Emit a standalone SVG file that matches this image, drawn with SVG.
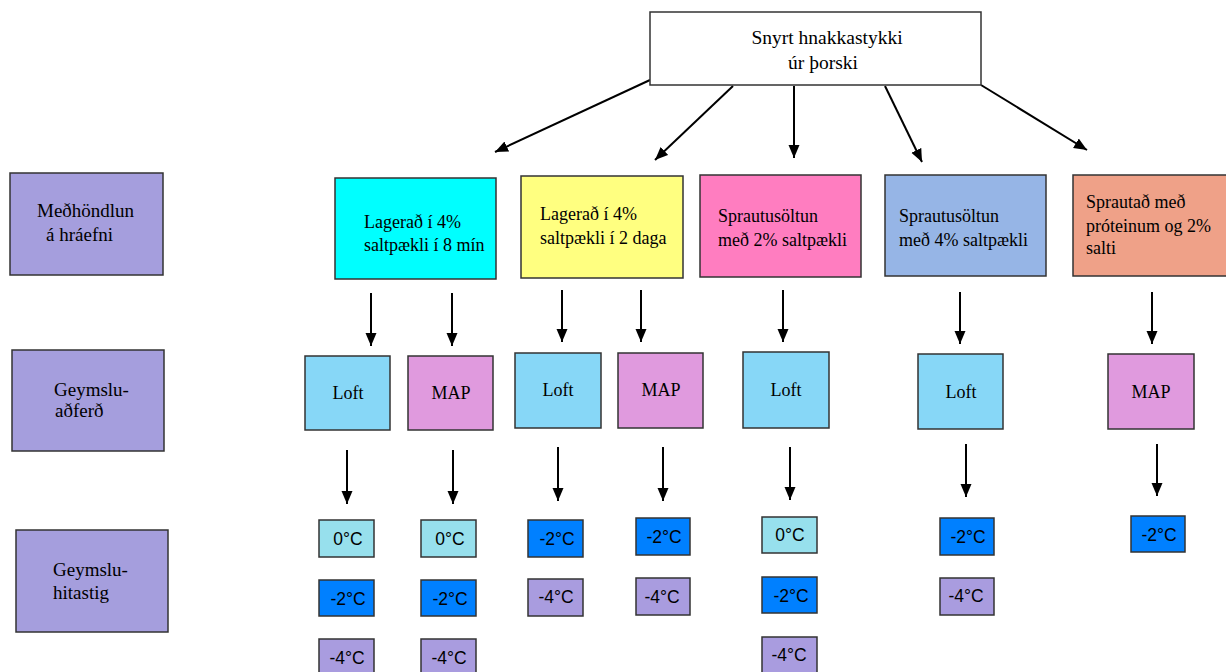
<svg xmlns="http://www.w3.org/2000/svg" width="1226" height="672" viewBox="0 0 1226 672">
<style>
.box{stroke:#333;stroke-width:1.5}
.t{font-family:"Liberation Serif","Times New Roman",serif;font-size:18px;fill:#000}
.big{font-size:19.5px}
.lb{font-size:19px}
.c{text-anchor:middle}
.s{font-family:"Liberation Sans",Arial,sans-serif;font-size:17.5px;fill:#000;text-anchor:middle}
.ar{stroke:#000;stroke-width:2;fill:none;marker-end:url(#ah)}
.lab{fill:#A59EDD}
.loft{fill:#87D7F7}
.map{fill:#E09ADE}
.t0{fill:#97E0ED}
.t2{fill:#0080FF}
.t4{fill:#A99CDF}
</style>
<defs>
<marker id="ah" markerUnits="userSpaceOnUse" markerWidth="14" markerHeight="12" refX="13" refY="5.5" orient="auto">
<path d="M0,0 L13,5.5 L0,11 z" fill="#000"/>
</marker>
</defs>
<rect width="1226" height="672" fill="#fff"/>

<g id="connectors">
<line class="ar" x1="650" y1="80" x2="495" y2="152"/>
<line class="ar" x1="733" y1="86" x2="655" y2="160"/>
<line class="ar" x1="794" y1="86" x2="794" y2="158"/>
<line class="ar" x1="885" y1="86" x2="922" y2="162"/>
<line class="ar" x1="981" y1="85" x2="1087" y2="150"/>

<line class="ar" x1="371" y1="293" x2="371" y2="346"/>
<line class="ar" x1="452" y1="293" x2="452" y2="346"/>
<line class="ar" x1="562" y1="290" x2="562" y2="342"/>
<line class="ar" x1="641" y1="290" x2="641" y2="342"/>
<line class="ar" x1="783" y1="290" x2="783" y2="342"/>
<line class="ar" x1="960" y1="292" x2="960" y2="344"/>
<line class="ar" x1="1152" y1="292" x2="1152" y2="344"/>

<line class="ar" x1="347" y1="450" x2="347" y2="504"/>
<line class="ar" x1="453" y1="450" x2="453" y2="504"/>
<line class="ar" x1="558" y1="447" x2="558" y2="501"/>
<line class="ar" x1="663" y1="447" x2="663" y2="501"/>
<line class="ar" x1="790" y1="447" x2="790" y2="500"/>
<line class="ar" x1="966" y1="444" x2="966" y2="497"/>
<line class="ar" x1="1157" y1="444" x2="1157" y2="496"/>
</g>

<g id="root">
<rect class="box" x="650" y="12" width="331" height="73" fill="#fff"/>
<text class="t big c" x="827" y="44">Snyrt hnakkastykki</text>
<text class="t big c" x="823" y="69">úr þorski</text>
</g>

<g id="label-medhondlun">
<rect class="box lab" x="10" y="173" width="153" height="102"/>
<text class="t lb" x="37" y="217">Meðhöndlun</text>
<text class="t lb" x="46" y="241">á hráefni</text>
</g>
<g id="label-geymsluadferd">
<rect class="box lab" x="12" y="350" width="152" height="101"/>
<text class="t lb" x="54" y="396">Geymslu-</text>
<text class="t lb" x="55" y="417">aðferð</text>
</g>
<g id="label-geymsluhitastig">
<rect class="box lab" x="16" y="530" width="152" height="102"/>
<text class="t lb" x="53" y="576">Geymslu-</text>
<text class="t lb" x="53" y="599">hitastig</text>
</g>

<g id="treat1">
<rect class="box" x="335" y="178" width="161" height="101" fill="#00FFFF"/>
<text class="t" x="364" y="228">Lagerað í 4%</text>
<text class="t" x="364" y="251">saltpækli í 8 mín</text>
</g>
<g id="treat2">
<rect class="box" x="521" y="176" width="162" height="102" fill="#FFFF80"/>
<text class="t" x="540" y="220">Lagerað í 4%</text>
<text class="t" x="540" y="244">saltpækli í 2 daga</text>
</g>
<g id="treat3">
<rect class="box" x="700" y="175" width="161" height="102" fill="#FF7DC0"/>
<text class="t" x="718" y="222">Sprautusöltun</text>
<text class="t" x="718" y="246">með 2% saltpækli</text>
</g>
<g id="treat4">
<rect class="box" x="885" y="175" width="161" height="101" fill="#96B5E6"/>
<text class="t" x="899" y="222">Sprautusöltun</text>
<text class="t" x="899" y="246">með 4% saltpækli</text>
</g>
<g id="treat5">
<rect class="box" x="1073" y="175" width="160" height="101" fill="#EFA188"/>
<text class="t" x="1086" y="208">Sprautað með</text>
<text class="t" x="1086" y="232">próteinum og 2%</text>
<text class="t" x="1086" y="254">salti</text>
</g>

<g id="loft1"><rect class="box loft" x="305" y="356" width="85" height="74"/><text class="t c" x="348" y="399">Loft</text></g>
<g id="map1"><rect class="box map" x="408" y="356" width="85" height="74"/><text class="t c" x="451" y="399">MAP</text></g>
<g id="loft2"><rect class="box loft" x="515" y="353" width="86" height="75"/><text class="t c" x="558" y="396">Loft</text></g>
<g id="map2"><rect class="box map" x="618" y="353" width="85" height="75"/><text class="t c" x="661" y="396">MAP</text></g>
<g id="loft3"><rect class="box loft" x="743" y="352" width="86" height="76"/><text class="t c" x="786" y="396">Loft</text></g>
<g id="loft4"><rect class="box loft" x="918" y="354" width="85" height="75"/><text class="t c" x="961" y="398">Loft</text></g>
<g id="map5"><rect class="box map" x="1108" y="354" width="86" height="75"/><text class="t c" x="1151" y="398">MAP</text></g>

<g id="temp1-0"><rect class="box t0" x="319" y="520" width="55" height="37"/><text class="s" x="348" y="545">0°C</text></g>
<g id="temp1-2"><rect class="box t2" x="319" y="580" width="55" height="36"/><text class="s" x="348" y="605">-2°C</text></g>
<g id="temp1-4"><rect class="box t4" x="319" y="639" width="55" height="37"/><text class="s" x="347" y="664">-4°C</text></g>

<g id="temp2-0"><rect class="box t0" x="421" y="520" width="55" height="37"/><text class="s" x="450" y="545">0°C</text></g>
<g id="temp2-2"><rect class="box t2" x="421" y="580" width="55" height="36"/><text class="s" x="450" y="605">-2°C</text></g>
<g id="temp2-4"><rect class="box t4" x="421" y="639" width="55" height="37"/><text class="s" x="449" y="664">-4°C</text></g>

<g id="temp3-2"><rect class="box t2" x="528" y="520" width="55" height="37"/><text class="s" x="557" y="545">-2°C</text></g>
<g id="temp3-4"><rect class="box t4" x="528" y="579" width="55" height="37"/><text class="s" x="556" y="603">-4°C</text></g>

<g id="temp4-2"><rect class="box t2" x="636" y="518" width="54" height="37"/><text class="s" x="664" y="543">-2°C</text></g>
<g id="temp4-4"><rect class="box t4" x="636" y="578" width="54" height="37"/><text class="s" x="662" y="603">-4°C</text></g>

<g id="temp5-0"><rect class="box t0" x="762" y="517" width="55" height="36"/><text class="s" x="790" y="541">0°C</text></g>
<g id="temp5-2"><rect class="box t2" x="762" y="577" width="55" height="36"/><text class="s" x="791" y="602">-2°C</text></g>
<g id="temp5-4"><rect class="box t4" x="762" y="637" width="55" height="37"/><text class="s" x="789" y="661">-4°C</text></g>

<g id="temp6-2"><rect class="box t2" x="940" y="518" width="54" height="37"/><text class="s" x="968" y="543">-2°C</text></g>
<g id="temp6-4"><rect class="box t4" x="940" y="578" width="54" height="37"/><text class="s" x="966" y="602">-4°C</text></g>

<g id="temp7-2"><rect class="box t2" x="1131" y="516" width="54" height="36"/><text class="s" x="1159" y="541">-2°C</text></g>
</svg>
